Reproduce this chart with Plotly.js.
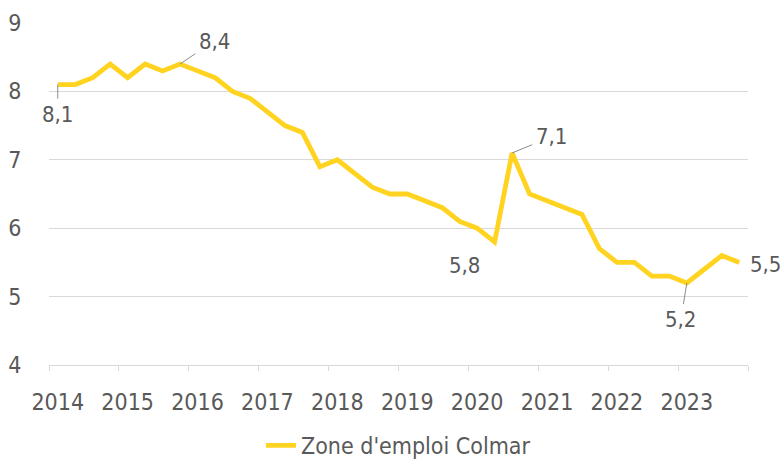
<!DOCTYPE html>
<html>
<head>
<meta charset="utf-8">
<script src="https://cdn.plot.ly/plotly-3.0.1.min.js"></script>
<style>html,body{margin:0;padding:0;background:#fff;}#chart{width:781px;height:461px;}</style>
</head>
<body>
<div id="chart"></div>
<script>
// Quarterly values, 2014 Q1 to 2023 Q4
const quarters = Array.from({length: 40}, (_, i) => (2014 + Math.floor(i / 4)) + " T" + (i % 4 + 1));
const values = [8.1, 8.1, 8.2, 8.4, 8.2, 8.4, 8.3, 8.4, 8.3, 8.2,
                8.0, 7.9, 7.7, 7.5, 7.4, 6.9, 7.0, 6.8, 6.6, 6.5,
                6.5, 6.4, 6.3, 6.1, 6.0, 5.8, 7.1, 6.5, 6.4, 6.3,
                6.2, 5.7, 5.5, 5.5, 5.3, 5.3, 5.2, 5.4, 5.6, 5.5];
const yearLabels = ["2014","2015","2016","2017","2018","2019","2020","2021","2022","2023"];
const seriesName = "Zone d'emploi Colmar";
// labelled points: index and label offset (px)
const labelled = [
  {i: 0, ax: 0, ay: 30},
  {i: 7, ax: 34, ay: -23},
  {i: 25, ax: -30, ay: 24, noarrow: true},
  {i: 26, ax: 39, ay: -16},
  {i: 36, ax: -6, ay: 37},
  {i: 39, ax: 26, ay: 2, noarrow: true}
];

const idx = values.map((_, i) => i);
const font = "'DejaVu Sans Condensed', 'Liberation Sans Narrow', sans-serif";
const txt = "#595959";

const annotations = labelled.map(l => ({
  x: idx[l.i], y: values[l.i], xref: "x", yref: "y",
  text: String(values[l.i]).replace(".", ","),
  showarrow: !l.noarrow,
  arrowhead: 0, arrowwidth: 1, arrowcolor: "#8c8c8c",
  ax: l.ax, ay: l.ay,
  standoff: 0, startstandoff: 2,
  xshift: l.noarrow ? l.ax : 0, yshift: l.noarrow ? -l.ay : 0,
  font: {family: font, size: 22, color: txt}
}));

const data = [{
  x: idx, y: values, type: "scatter", mode: "lines", name: seriesName,
  text: quarters, hoverinfo: "text+y",
  line: {color: "#FFD320", width: 4.8}
}];

const layout = {
  width: 781, height: 461,
  margin: {l: 49, r: 33, t: 23, b: 96, autoexpand: false},
  paper_bgcolor: "#fff", plot_bgcolor: "#fff",
  font: {family: font, size: 23, color: txt},
  showlegend: true,
  legend: {orientation: "h", x: 0.5, xanchor: "center", y: -0.235, yanchor: "middle",
           font: {family: font, size: 23, color: txt}},
  xaxis: {
    range: [-0.5, 39.5], tickmode: "array",
    tickvals: yearLabels.map((_, k) => k * 4), ticktext: yearLabels,
    ticks: "outside", ticklen: 16, tickcolor: "rgba(0,0,0,0)",
    minor: {tick0: -0.5, dtick: 4, ticks: "outside", ticklen: 5, tickcolor: "#d9d9d9", tickwidth: 1, showgrid: false},
    showgrid: false, zeroline: false, showline: true, linecolor: "#d9d9d9", linewidth: 1,
    tickfont: {family: font, size: 23, color: txt}
  },
  yaxis: {
    range: [4, 9], dtick: 1, tick0: 4,
    ticks: "outside", ticklen: 22, tickcolor: "rgba(0,0,0,0)",
    showgrid: true, gridcolor: "#d9d9d9", gridwidth: 1, zeroline: false, showline: false,
    tickfont: {family: font, size: 23, color: txt}
  },
  annotations: annotations
};

Plotly.newPlot("chart", data, layout, {displayModeBar: false, staticPlot: true});
</script>
</body>
</html>
